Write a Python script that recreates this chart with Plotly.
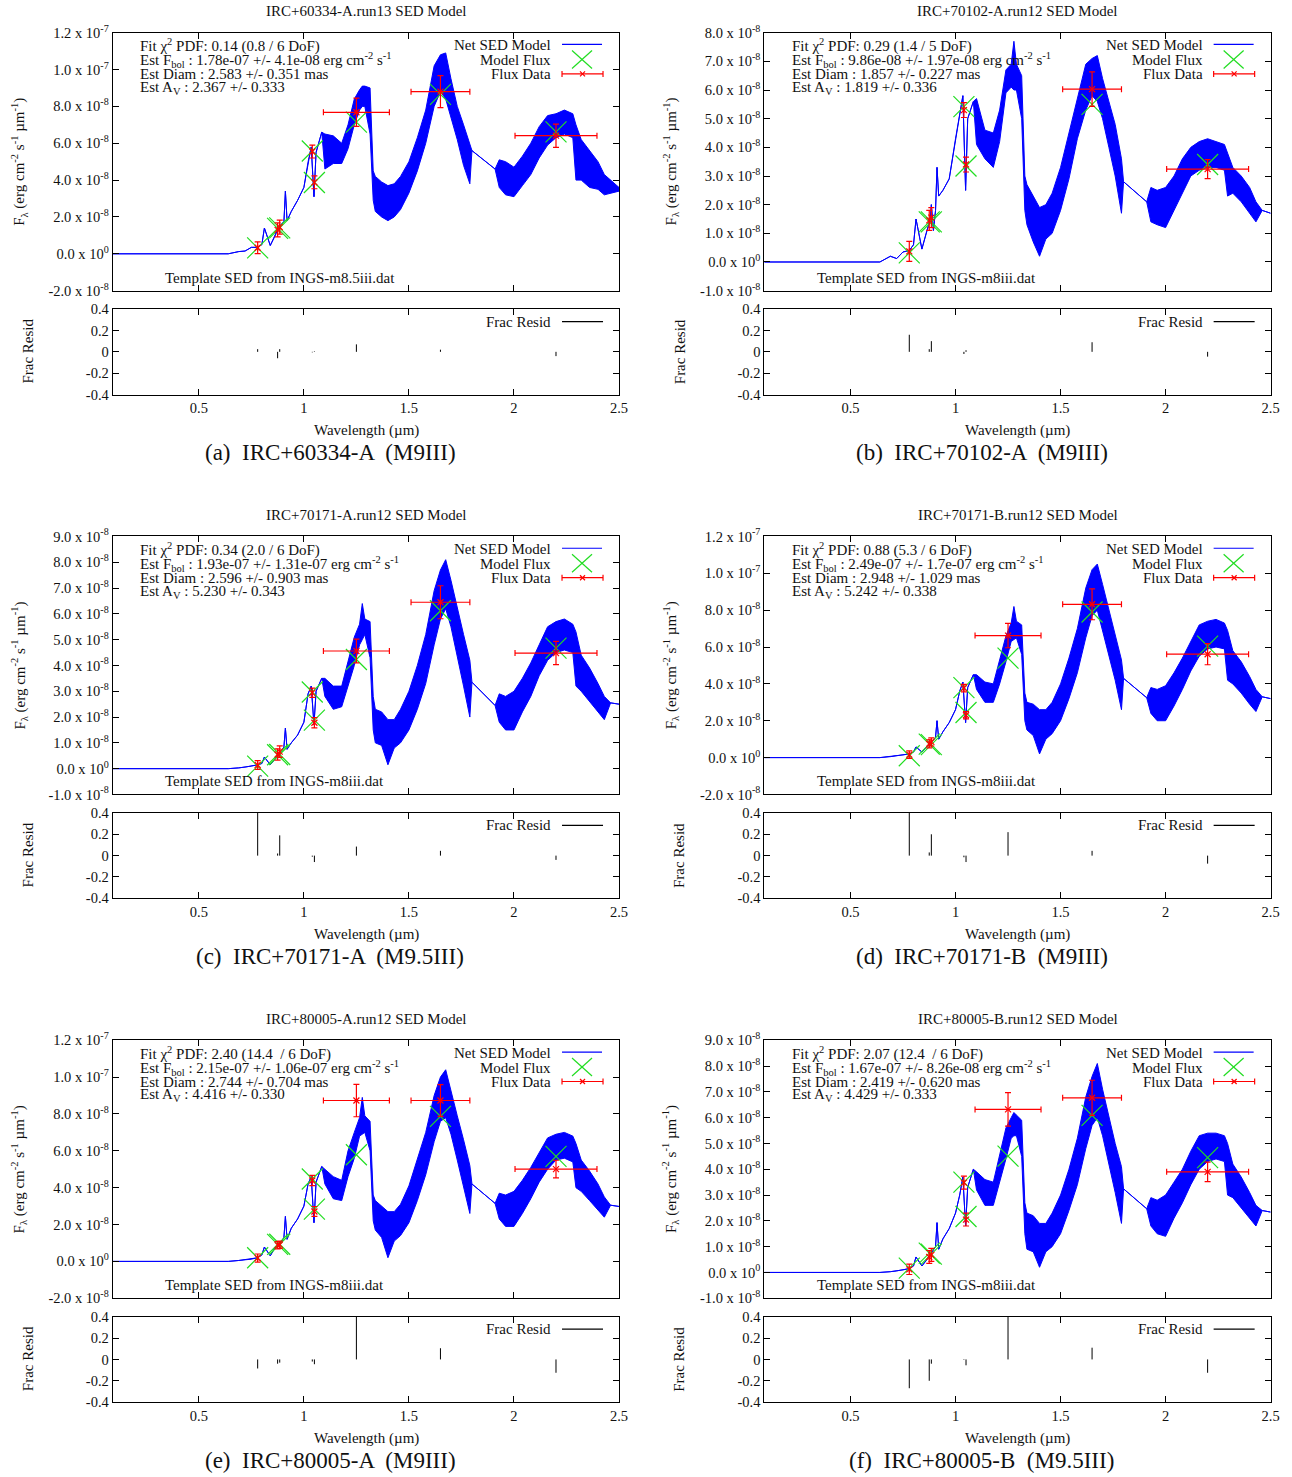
import plotly.graph_objects as go

FIG_W, FIG_H = 1292, 1477
# window pixel -> layout pixel correction measured on the rendered page
X_GAIN, Y_GAIN, Y_SHIFT = 0.993, 0.989, 9.0
SCALE = 1e-8  # spectral fluxes below are in units of 1e-8 erg cm^-2 s^-1 um^-1

# ---------------------------------------------------------------------------
# Template spectrum: a smooth optical part, then a noisy near-IR part drawn as
# the lower / upper envelope of the (very dense) template samples.
# ---------------------------------------------------------------------------
WAVE_SMOOTH = [0.09, 0.64, 0.69, 0.72, 0.75, 0.78, 0.80, 0.812, 0.84, 0.86, 0.88, 0.885,
               0.895, 0.905, 0.912, 0.92, 0.94, 0.97, 1.00, 1.02, 1.035, 1.048, 1.058, 1.085]
WAVE_BAND = [1.10, 1.14, 1.18, 1.21, 1.24, 1.265, 1.278, 1.29, 1.315, 1.33, 1.34, 1.37,
             1.40, 1.43, 1.46, 1.50, 1.54, 1.58, 1.62, 1.65, 1.675, 1.70, 1.73, 1.76,
             1.79, 1.80, 1.91, 1.93, 1.96, 2.00, 2.04, 2.08, 2.12, 2.16, 2.20, 2.24,
             2.28, 2.295, 2.32, 2.36, 2.40, 2.43, 2.46, 2.50]

A_SMOOTH = [0, 0, 0.12, 0.15, 0.35, 0.35, 0.5, 1.4, 0.45, 0.9, 1.45, 1.5, 1.6, 1.75, 3.4, 1.8,
            2.3, 2.9, 3.6, 5.0, 5.8, 3.1, 5.5, 6.6]
A_LO = [4.6, 4.9, 4.9, 5.7, 7.0, 7.8, 8.0, 8.0, 6.5, 2.9, 2.3, 2.0, 1.8, 2.0, 2.4, 3.3, 4.5,
        6.0, 8.0, 8.8, 8.4, 7.4, 6.2, 4.8, 3.8, 5.6, 4.6, 3.6, 3.2, 3.1, 3.7, 4.3, 5.2, 5.9,
        6.3, 6.5, 6.3, 4.0, 4.0, 3.6, 3.5, 3.2, 3.3, 3.4]
A_HI = [6.5, 6.4, 6.0, 7.0, 8.4, 8.9, 9.1, 9.1, 9.0, 4.5, 4.2, 3.9, 3.7, 3.8, 4.2, 5.0, 6.3,
        7.8, 10.2, 10.8, 10.9, 9.5, 8.0, 7.0, 6.0, 5.6, 4.6, 5.1, 5.0, 4.7, 5.3, 6.0, 6.9, 7.5,
        7.6, 7.8, 7.6, 7.0, 6.2, 5.6, 5.0, 4.3, 4.0, 3.6]

B_SMOOTH = [0, 0, 0.2, 0.12, 0.35, 0.4, 0.6, 1.5, 0.45, 1.0, 1.5, 2.0, 1.1, 1.8, 3.3, 2.3,
            2.5, 2.9, 4.3, 5.2, 5.8, 2.5, 5.0, 5.6]
B_LO = [4.1, 3.6, 3.3, 4.2, 5.9, 6.1, 6.0, 6.0, 5.0, 1.8, 1.3, 0.7, 0.2, 0.8, 1.0, 1.8, 2.9,
        4.3, 5.3, 5.8, 5.6, 5.0, 4.0, 3.0, 1.7, 2.8, 2.1, 1.4, 1.3, 1.2, 1.8, 2.4, 3.0, 3.2,
        3.3, 3.3, 3.2, 2.3, 2.4, 2.1, 1.7, 1.4, 1.8, 1.7]
B_HI = [5.7, 4.6, 4.5, 5.3, 6.7, 6.9, 7.7, 6.9, 6.5, 3.0, 2.7, 2.3, 1.9, 2.0, 2.4, 3.3, 4.5,
        5.8, 6.9, 7.1, 7.2, 6.4, 5.6, 4.8, 3.6, 2.8, 2.1, 2.6, 2.5, 2.6, 3.0, 3.6, 4.0, 4.2,
        4.3, 4.2, 4.1, 3.8, 3.3, 3.0, 2.6, 2.1, 1.8, 1.7]

C_SMOOTH = [0, 0, 0.03, 0.06, 0.1, 0.15, 0.2, 0.45, 0.15, 0.35, 0.6, 0.62, 0.7, 0.85, 1.57,
            0.75, 1.0, 1.3, 1.8, 2.9, 3.2, 1.7, 3.0, 3.5]
C_LO = [2.8, 2.3, 2.4, 3.2, 4.0, 4.8, 5.0, 5.2, 4.3, 1.5, 1.0, 0.9, 0.15, 0.8, 1.0, 1.5, 2.3,
        3.3, 4.8, 5.8, 6.2, 5.5, 4.3, 3.2, 2.0, 3.35, 2.45, 1.8, 1.5, 1.5, 2.2, 2.8, 3.6, 4.2,
        4.5, 4.6, 4.5, 3.2, 3.0, 2.6, 2.2, 1.9, 2.55, 2.5]
C_HI = [3.5, 3.2, 3.2, 4.2, 5.1, 5.6, 6.4, 5.8, 5.7, 2.8, 2.3, 2.2, 1.9, 1.9, 2.3, 3.0, 4.0,
        5.2, 6.9, 7.7, 8.1, 7.3, 6.2, 5.2, 4.2, 3.35, 2.45, 2.9, 2.8, 3.0, 3.5, 4.1, 4.8, 5.5,
        5.7, 5.8, 5.6, 5.3, 4.4, 3.9, 3.3, 2.8, 2.55, 2.5]

D_SMOOTH = [0, 0, 0.05, 0.12, 0.15, 0.2, 0.3, 0.58, 0.3, 0.55, 0.8, 0.85, 0.95, 1.1, 2.0,
            1.0, 1.4, 1.9, 2.6, 3.6, 4.1, 1.9, 3.8, 4.5]
D_LO = [3.7, 3.0, 3.0, 4.0, 5.2, 6.3, 6.4, 6.5, 5.6, 2.0, 1.5, 1.2, 0.2, 1.0, 1.3, 2.0, 3.2,
        4.6, 6.5, 7.7, 8.0, 7.0, 5.6, 4.2, 2.6, 4.3, 3.25, 2.4, 2.0, 2.0, 2.8, 3.7, 4.7, 5.5,
        5.9, 6.0, 5.9, 4.2, 4.0, 3.5, 2.9, 2.5, 3.3, 3.2]
D_HI = [4.5, 4.1, 4.0, 5.3, 6.6, 7.3, 8.2, 7.4, 7.2, 3.5, 3.0, 2.9, 2.6, 2.6, 3.0, 4.0, 5.4,
        7.0, 9.2, 10.2, 10.5, 9.4, 8.0, 6.7, 5.3, 4.3, 3.25, 3.8, 3.7, 3.9, 4.6, 5.4, 6.3, 7.2,
        7.4, 7.5, 7.3, 6.9, 5.8, 5.2, 4.4, 3.7, 3.3, 3.2]

E_SMOOTH = [0, 0, 0.05, 0.1, 0.12, 0.2, 0.35, 0.78, 0.3, 0.7, 0.95, 1.0, 1.1, 1.3, 2.44,
            1.2, 1.8, 2.3, 3.0, 4.2, 4.6, 2.1, 4.3, 5.15]
E_LO = [4.2, 3.4, 3.3, 4.6, 5.6, 6.8, 6.9, 7.0, 6.0, 2.2, 1.7, 1.3, 0.2, 1.1, 1.4, 2.1, 3.3,
        4.7, 6.5, 7.6, 7.8, 6.9, 5.5, 4.1, 2.6, 4.2, 3.15, 2.3, 1.9, 1.9, 2.6, 3.4, 4.3, 5.0,
        5.5, 5.6, 5.4, 4.0, 3.8, 3.3, 2.8, 2.4, 3.05, 2.98]
E_HI = [5.0, 4.6, 4.4, 6.0, 7.0, 7.8, 8.9, 7.9, 7.6, 3.6, 3.3, 3.0, 2.7, 2.7, 3.1, 4.1, 5.5,
        7.0, 9.0, 10.0, 10.4, 9.2, 7.9, 6.6, 5.2, 4.2, 3.15, 3.7, 3.6, 3.8, 4.4, 5.1, 5.9, 6.7,
        6.9, 7.0, 6.8, 6.4, 5.5, 4.9, 4.2, 3.5, 3.05, 2.98]

F_SMOOTH = [0, 0, 0.03, 0.06, 0.1, 0.15, 0.25, 0.6, 0.25, 0.45, 0.7, 0.75, 0.85, 1.0, 1.93,
            0.9, 1.3, 1.7, 2.3, 3.0, 3.7, 1.8, 3.3, 4.0]
F_LO = [3.2, 2.6, 2.6, 3.5, 4.4, 5.2, 5.3, 5.3, 4.5, 1.5, 0.9, 0.8, 0.2, 0.8, 1.0, 1.5, 2.4,
        3.4, 4.8, 5.7, 6.0, 5.3, 4.2, 3.1, 1.9, 3.24, 2.47, 1.8, 1.5, 1.4, 2.1, 2.7, 3.4, 4.0,
        4.3, 4.4, 4.3, 3.0, 2.9, 2.5, 2.1, 1.8, 2.4, 2.34]
F_HI = [3.9, 3.6, 3.5, 4.6, 5.6, 6.0, 6.2, 6.1, 5.9, 2.7, 2.3, 2.2, 1.9, 1.9, 2.3, 3.0, 4.0,
        5.2, 6.8, 7.6, 8.1, 7.1, 6.0, 5.0, 4.1, 3.24, 2.47, 2.9, 2.8, 3.0, 3.5, 4.0, 4.7, 5.3,
        5.4, 5.4, 5.3, 5.0, 4.2, 3.7, 3.1, 2.6, 2.4, 2.34]

# ---------------------------------------------------------------------------
# Photometry: band centres, band half-widths, measured flux, errors, model flux
# and fractional residuals.
# ---------------------------------------------------------------------------
WAVE_PHOT = [0.78, 0.875, 0.885, 1.04, 1.05, 1.25, 1.65, 2.20]
XERR_PHOT = [0, 0, 0, 0, 0, 0.157, 0.14, 0.195]
WAVE_PHOT_B = [0.78, 0.875, 0.885, 1.04, 1.05, 1.65, 2.20]
XERR_PHOT_B = [0, 0, 0, 0, 0, 0.14, 0.195]

A_FLUX = [0.33, 1.30, 1.45, 5.55, 3.88, 7.68, 8.80, 6.41]
A_ERR = [0.32, 0.38, 0.38, 0.35, 0.35, 0.77, 0.87, 0.63]
A_MODEL = [0.32, 1.38, 1.41, 5.58, 3.87, 7.15, 8.65, 6.62]
A_RESID = [0.025, -0.06, 0.025, -0.005, 0.005, 0.07, 0.02, -0.04]

B_FLUX = [0.37, 1.45, 1.55, 5.30, 3.40, 6.03, 3.24]
B_ERR = [0.35, 0.35, 0.35, 0.26, 0.26, 0.60, 0.33]
B_MODEL = [0.32, 1.40, 1.40, 5.42, 3.35, 5.50, 3.40]
B_RESID = [0.16, 0.025, 0.10, -0.02, 0.015, 0.09, -0.045]

C_FLUX = [0.14, 0.55, 0.66, 2.94, 1.78, 4.56, 6.45, 4.48]
C_ERR = [0.17, 0.22, 0.22, 0.18, 0.20, 0.46, 0.64, 0.45]
C_MODEL = [0.10, 0.54, 0.55, 2.97, 1.88, 4.23, 6.12, 4.67]
C_RESID = [0.45, 0.02, 0.19, -0.01, -0.06, 0.085, 0.045, -0.04]

D_FLUX = [0.16, 0.75, 0.85, 3.77, 2.30, 6.62, 8.32, 5.61]
D_ERR = [0.20, 0.22, 0.22, 0.20, 0.20, 0.66, 0.84, 0.57]
D_MODEL = [0.10, 0.73, 0.70, 3.80, 2.45, 5.40, 7.90, 6.05]
D_RESID = [0.45, 0.03, 0.20, -0.015, -0.06, 0.22, 0.045, -0.075]

E_FLUX = [0.18, 0.88, 0.90, 4.39, 2.71, 8.73, 8.73, 5.01]
E_ERR = [0.22, 0.20, 0.20, 0.28, 0.27, 0.88, 0.86, 0.48]
E_MODEL = [0.20, 0.92, 0.93, 4.47, 2.84, 5.79, 7.87, 5.70]
E_RESID = [-0.085, -0.04, -0.03, -0.02, -0.045, 0.50, 0.105, -0.125]

F_FLUX = [0.12, 0.60, 0.68, 3.48, 2.05, 6.32, 6.77, 3.90]
F_ERR = [0.20, 0.25, 0.25, 0.25, 0.25, 0.65, 0.68, 0.38]
F_MODEL = [0.165, 0.75, 0.71, 3.50, 2.17, 4.51, 6.09, 4.45]
F_RESID = [-0.27, -0.20, -0.04, -0.005, -0.055, 0.55, 0.11, -0.125]

# Text of each panel
TITLES = ["IRC+60334-A.run13 SED Model", "IRC+70102-A.run12 SED Model",
          "IRC+70171-A.run12 SED Model", "IRC+70171-B.run12 SED Model",
          "IRC+80005-A.run12 SED Model", "IRC+80005-B.run12 SED Model"]
CAPTIONS = ["(a)  IRC+60334-A  (M9III)", "(b)  IRC+70102-A  (M9III)",
            "(c)  IRC+70171-A  (M9.5III)", "(d)  IRC+70171-B  (M9III)",
            "(e)  IRC+80005-A  (M9III)", "(f)  IRC+80005-B  (M9.5III)"]
FIT_CHI2 = ["0.14 (0.8 / 6 DoF)", "0.29 (1.4 / 5 DoF)", "0.34 (2.0 / 6 DoF)",
            "0.88 (5.3 / 6 DoF)", "2.40 (14.4  / 6 DoF)", "2.07 (12.4  / 6 DoF)"]
FIT_FBOL = ["1.78e-07 +/- 4.1e-08", "9.86e-08 +/- 1.97e-08", "1.93e-07 +/- 1.31e-07",
            "2.49e-07 +/- 1.7e-07", "2.15e-07 +/- 1.06e-07", "1.67e-07 +/- 8.26e-08"]
FIT_DIAM = ["2.583 +/- 0.351", "1.857 +/- 0.227", "2.596 +/- 0.903",
            "2.948 +/- 1.029", "2.744 +/- 0.704", "2.419 +/- 0.620"]
FIT_AV = ["2.367 +/- 0.333", "1.819 +/- 0.336", "5.230 +/- 0.343",
          "5.242 +/- 0.338", "4.416 +/- 0.330", "4.429 +/- 0.333"]
TEMPLATES = ["INGS-m8.5iii.dat", "INGS-m8iii.dat", "INGS-m8iii.dat",
             "INGS-m8iii.dat", "INGS-m8iii.dat", "INGS-m8iii.dat"]
Y_RANGES = [(-2, 12, 2), (-1, 8, 1), (-1, 9, 1), (-2, 12, 2), (-2, 12, 2), (-1, 9, 1)]

PANELS = [
    dict(smooth=A_SMOOTH, lo=A_LO, hi=A_HI, wave=WAVE_PHOT, xerr=XERR_PHOT,
         flux=A_FLUX, err=A_ERR, model=A_MODEL, resid=A_RESID),
    dict(smooth=B_SMOOTH, lo=B_LO, hi=B_HI, wave=WAVE_PHOT_B, xerr=XERR_PHOT_B,
         flux=B_FLUX, err=B_ERR, model=B_MODEL, resid=B_RESID),
    dict(smooth=C_SMOOTH, lo=C_LO, hi=C_HI, wave=WAVE_PHOT, xerr=XERR_PHOT,
         flux=C_FLUX, err=C_ERR, model=C_MODEL, resid=C_RESID),
    dict(smooth=D_SMOOTH, lo=D_LO, hi=D_HI, wave=WAVE_PHOT, xerr=XERR_PHOT,
         flux=D_FLUX, err=D_ERR, model=D_MODEL, resid=D_RESID),
    dict(smooth=E_SMOOTH, lo=E_LO, hi=E_HI, wave=WAVE_PHOT, xerr=XERR_PHOT,
         flux=E_FLUX, err=E_ERR, model=E_MODEL, resid=E_RESID),
    dict(smooth=F_SMOOTH, lo=F_LO, hi=F_HI, wave=WAVE_PHOT, xerr=XERR_PHOT,
         flux=F_FLUX, err=F_ERR, model=F_MODEL, resid=F_RESID),
]

BLUE = "#0000ff"
GREEN = "#22dd22"
RED = "#ff0000"
INK = "#111111"
FONT = "Liberation Serif"
TEXT_SIZE = 15

X_RANGE = [0.09, 2.5]
X_TICKS = [0.5, 1.0, 1.5, 2.0, 2.5]

# window-pixel geometry of the top-left panel; others are shifted copies
COL_DX, ROW_DY = 651.6, 504.4
PLOT_L, PLOT_R = 112.7, 619.0
MAIN_T, MAIN_B = 31.7, 290.0
RES_T, RES_B = 308.5, 394.0


def px(x):
    return (x / X_GAIN) / FIG_W


def py(y):
    return 1 - ((y - Y_SHIFT) / Y_GAIN) / FIG_H


def flux_label(v):
    if v == 0:
        return "0.0 x 10<sup>0</sup>"
    if abs(v) >= 10:
        return f"{v / 10:.1f} x 10<sup>-7</sup>"
    return f"{v:.1f} x 10<sup>-8</sup>"


fig = go.Figure()
layout = dict(width=FIG_W, height=FIG_H, margin=dict(l=0, r=0, t=0, b=0),
              paper_bgcolor="white", plot_bgcolor="white", showlegend=False,
              font=dict(family=FONT, size=TEXT_SIZE, color=INK))
annotations, shapes = [], []

axis_common = dict(showgrid=False, zeroline=False, showline=True, linecolor="black",
                   linewidth=1, mirror="ticks", ticks="inside", ticklen=6, tickwidth=1,
                   tickcolor="black", tickfont=dict(family=FONT, size=14.5, color=INK))

for i, p in enumerate(PANELS):
    col, row = i % 2, i // 2
    dx, dy = col * COL_DX, row * ROW_DY
    km, kr = 2 * i + 1, 2 * i + 2
    xm, ym = ("x", "y") if km == 1 else (f"x{km}", f"y{km}")
    xr, yr = f"x{kr}", f"y{kr}"
    xdom = [px(PLOT_L + dx), px(PLOT_R + dx)]
    ylo, yhi, ystep = Y_RANGES[i]
    yvals = list(range(ylo, yhi + 1, ystep))

    layout["xaxis" if km == 1 else f"xaxis{km}"] = dict(
        axis_common, domain=xdom, range=X_RANGE, tickvals=X_TICKS, showticklabels=False,
        anchor=ym)
    layout["yaxis" if km == 1 else f"yaxis{km}"] = dict(
        axis_common, domain=[py(MAIN_B + dy), py(MAIN_T + dy)],
        range=[ylo * SCALE, yhi * SCALE], tickvals=[v * SCALE for v in yvals],
        ticktext=[flux_label(v) for v in yvals], anchor=xm)
    layout[f"xaxis{kr}"] = dict(
        axis_common, domain=xdom, range=X_RANGE, tickvals=X_TICKS,
        ticktext=["0.5", "1", "1.5", "2", "2.5"], anchor=yr)
    layout[f"yaxis{kr}"] = dict(
        axis_common, domain=[py(RES_B + dy), py(RES_T + dy)], range=[-0.4, 0.4],
        tickvals=[-0.4, -0.2, 0, 0.2, 0.4], ticktext=["-0.4", "-0.2", "0", "0.2", "0.4"],
        anchor=xr)

    # template SED: smooth part plus envelope of the noisy near-IR part
    sx = WAVE_SMOOTH + WAVE_BAND + WAVE_BAND[::-1] + WAVE_SMOOTH[::-1]
    sy = p["smooth"] + p["hi"] + p["lo"][::-1] + p["smooth"][::-1]
    fig.add_trace(go.Scatter(x=sx, y=[v * SCALE for v in sy], mode="lines", fill="toself",
                             fillcolor=BLUE, line=dict(color=BLUE, width=1),
                             xaxis=xm, yaxis=ym, hoverinfo="skip"))
    # model photometry
    fig.add_trace(go.Scatter(x=p["wave"], y=[v * SCALE for v in p["model"]], mode="markers",
                             marker=dict(symbol="x-thin-open", size=21, color=GREEN,
                                         line=dict(color=GREEN, width=1.2)),
                             xaxis=xm, yaxis=ym))
    # measured photometry with errors
    fig.add_trace(go.Scatter(x=p["wave"], y=[v * SCALE for v in p["flux"]], mode="markers",
                             marker=dict(symbol="x-thin-open", size=6, color=RED,
                                         line=dict(color=RED, width=1.2)),
                             error_y=dict(type="data", array=[v * SCALE for v in p["err"]],
                                          color=RED, thickness=1.2, width=3),
                             error_x=dict(type="data", array=p["xerr"], color=RED,
                                          thickness=1.2, width=3),
                             xaxis=xm, yaxis=ym))
    # fractional residuals as impulses
    rx, ry = [], []
    for w, r in zip(p["wave"], p["resid"]):
        rx += [w, w, None]
        ry += [0, r, None]
    fig.add_trace(go.Scatter(x=rx, y=ry, mode="lines", line=dict(color="black", width=1),
                             xaxis=xr, yaxis=yr))

    # ---- text ----
    def ann(x, y, text, size=TEXT_SIZE, xanchor="left", angle=0):
        annotations.append(dict(x=px(x + dx), y=py(y + dy), xref="paper", yref="paper",
                                text=text, showarrow=False, xanchor=xanchor,
                                yanchor="middle", textangle=angle,
                                font=dict(family=FONT, size=size, color=INK)))

    ann(366, 10, TITLES[i], xanchor="center")
    ann(138, 45, f"Fit χ<sup>2</sup> PDF: {FIT_CHI2[i]}")
    ann(138, 59, f"Est F<sub>bol</sub> : {FIT_FBOL[i]} erg cm<sup>-2</sup> s<sup>-1</sup>")
    ann(138, 73, f"Est Diam : {FIT_DIAM[i]} mas")
    ann(138, 87, f"Est A<sub>V</sub> : {FIT_AV[i]}")
    ann(163, 277, f"Template SED from {TEMPLATES[i]}")
    ann(553, 44, "Net SED Model", xanchor="right")
    ann(553, 59, "Model Flux", xanchor="right")
    ann(553, 73, "Flux Data", xanchor="right")
    ann(553, 321, "Frac Resid", xanchor="right")
    ann(366, 430, "Wavelength (µm)", xanchor="center")
    ann(330, 452, CAPTIONS[i], size=23, xanchor="center")
    ann(19, 161, "F<sub>λ</sub> (erg cm<sup>-2</sup> s<sup>-1</sup> µm<sup>-1</sup>)",
        xanchor="center", angle=-90)
    ann(28, 351, "Frac Resid", xanchor="center", angle=-90)

    # ---- legend keys ----
    def seg(x0, y0, x1, y1, color, width=1.2):
        shapes.append(dict(type="line", xref="paper", yref="paper",
                           x0=px(x0 + dx), y0=py(y0 + dy), x1=px(x1 + dx), y1=py(y1 + dy),
                           line=dict(color=color, width=width)))

    seg(562, 43.5, 602, 43.5, BLUE)
    seg(572, 49.5, 592, 67.5, GREEN)
    seg(572, 67.5, 592, 49.5, GREEN)
    seg(562, 73, 603, 73, RED)
    seg(562, 70, 562, 76, RED)
    seg(603, 70, 603, 76, RED)
    seg(580, 70.5, 585, 75.5, RED)
    seg(580, 75.5, 585, 70.5, RED)
    seg(562, 321, 603, 321, "black")

layout["annotations"] = annotations
layout["shapes"] = shapes
fig.update_layout(**layout)
fig.write_html("out.html")
